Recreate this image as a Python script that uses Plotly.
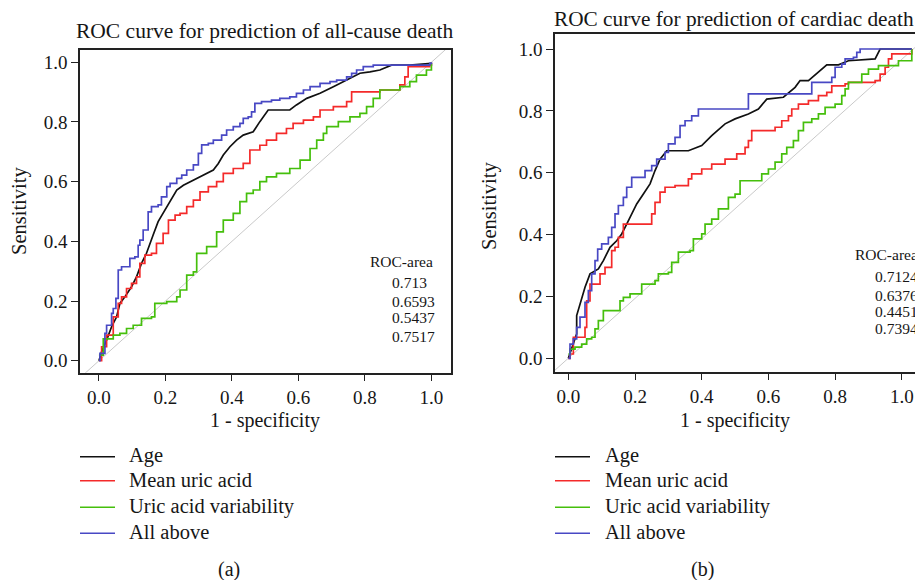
import plotly.graph_objects as go

# ---------------- data ----------------
tick_vals = [0.0, 0.2, 0.4, 0.6, 0.8, 1.0]
tick_text = ["0.0", "0.2", "0.4", "0.6", "0.8", "1.0"]

series_names = ["Age", "Mean uric acid", "Uric acid variability", "All above"]
series_colors = ["#111111", "#f42a2a", "#45bf0c", "#4848c4"]
series_shapes = ["linear", "hv", "hv", "hv"]

# Panel (a): all-cause death
a_age_x = [0, 0.008, 0.023, 0.038, 0.053, 0.063, 0.078, 0.098, 0.113, 0.128, 0.143, 0.153, 0.163, 0.178,
           0.198, 0.214, 0.234, 0.254, 0.284, 0.314, 0.344, 0.359, 0.374, 0.394, 0.414, 0.434, 0.464,
           0.484, 0.509, 0.574, 0.594, 0.625, 0.665, 0.705, 0.745, 0.785, 0.815, 0.845, 0.880, 0.935, 1.0]
a_age_y = [0, 0.030, 0.069, 0.114, 0.147, 0.192, 0.214, 0.248, 0.281, 0.326, 0.360, 0.393, 0.421, 0.466,
           0.505, 0.538, 0.572, 0.588, 0.605, 0.622, 0.639, 0.661, 0.689, 0.717, 0.739, 0.756, 0.767,
           0.801, 0.840, 0.840, 0.857, 0.879, 0.896, 0.918, 0.940, 0.963, 0.968, 0.974, 0.990, 0.990, 0.996]

a_mean_x = [0, 0.008, 0.023, 0.038, 0.043, 0.058, 0.068, 0.083, 0.098, 0.113, 0.123, 0.138, 0.158, 0.173,
            0.193, 0.209, 0.229, 0.244, 0.264, 0.284, 0.304, 0.329, 0.354, 0.374, 0.404, 0.434, 0.454,
            0.484, 0.504, 0.534, 0.564, 0.584, 0.615, 0.645, 0.665, 0.705, 0.745, 0.760, 0.805, 0.845,
            0.885, 0.905, 0.920, 0.930, 0.995, 1.0]
a_mean_y = [0, 0.047, 0.086, 0.086, 0.147, 0.192, 0.214, 0.242, 0.259, 0.281, 0.326, 0.354, 0.360, 0.393,
            0.427, 0.471, 0.488, 0.494, 0.516, 0.538, 0.566, 0.583, 0.600, 0.628, 0.644, 0.661, 0.706,
            0.722, 0.739, 0.762, 0.778, 0.795, 0.806, 0.817, 0.840, 0.851, 0.868, 0.901, 0.901, 0.907,
            0.907, 0.924, 0.951, 0.985, 0.990, 0.998]

a_var_x = [0, 0.013, 0.043, 0.063, 0.083, 0.103, 0.128, 0.158, 0.168, 0.204, 0.234, 0.244, 0.264, 0.284,
           0.294, 0.324, 0.354, 0.374, 0.404, 0.424, 0.444, 0.464, 0.484, 0.504, 0.534, 0.574, 0.605,
           0.635, 0.655, 0.675, 0.685, 0.720, 0.755, 0.785, 0.805, 0.825, 0.845, 0.885, 0.905, 0.935,
           0.955, 0.985, 0.995, 1.0]
a_var_y = [0.019, 0.073, 0.086, 0.092, 0.108, 0.119, 0.142, 0.147, 0.192, 0.198, 0.214, 0.237, 0.287, 0.298,
           0.360, 0.382, 0.432, 0.471, 0.494, 0.533, 0.561, 0.572, 0.600, 0.616, 0.628, 0.644, 0.672,
           0.711, 0.739, 0.762, 0.784, 0.801, 0.817, 0.829, 0.851, 0.879, 0.907, 0.907, 0.918, 0.935,
           0.957, 0.974, 0.974, 0.996]

a_all_x = [0, 0.003, 0.018, 0.023, 0.038, 0.043, 0.051, 0.058, 0.068, 0.093, 0.108, 0.118, 0.123, 0.133,
           0.148, 0.158, 0.178, 0.188, 0.204, 0.214, 0.234, 0.249, 0.264, 0.284, 0.299, 0.309, 0.329,
           0.344, 0.369, 0.384, 0.404, 0.424, 0.434, 0.449, 0.459, 0.469, 0.489, 0.519, 0.544, 0.574,
           0.594, 0.615, 0.635, 0.665, 0.695, 0.715, 0.745, 0.760, 0.775, 0.795, 0.825, 0.946, 0.995, 1.0]
a_all_y = [0, 0.025, 0.092, 0.119, 0.159, 0.175, 0.209, 0.304, 0.315, 0.343, 0.348, 0.387, 0.404, 0.438,
           0.499, 0.516, 0.522, 0.549, 0.583, 0.594, 0.611, 0.622, 0.639, 0.656, 0.695, 0.723, 0.728,
           0.739, 0.756, 0.773, 0.784, 0.795, 0.812, 0.817, 0.834, 0.862, 0.868, 0.873, 0.879, 0.884,
           0.896, 0.907, 0.918, 0.929, 0.935, 0.940, 0.951, 0.963, 0.974, 0.985, 0.990, 0.990, 0.996, 1.0]

a_auc = ["0.713", "0.6593", "0.5437", "0.7517"]

# Panel (b): cardiac death
b_age_x = [0, 0.025, 0.025, 0.035, 0.050, 0.065, 0.090, 0.105, 0.125, 0.145, 0.160, 0.175, 0.190, 0.205,
           0.225, 0.245, 0.260, 0.275, 0.295, 0.360, 0.400, 0.430, 0.470, 0.500, 0.540, 0.570, 0.595,
           0.645, 0.680, 0.695, 0.720, 0.750, 0.775, 0.810, 0.840, 0.920, 0.935, 1.030]
b_age_y = [0, 0.079, 0.138, 0.176, 0.230, 0.273, 0.289, 0.316, 0.359, 0.380, 0.402, 0.434, 0.467, 0.499,
           0.531, 0.564, 0.607, 0.644, 0.671, 0.671, 0.688, 0.720, 0.758, 0.774, 0.790, 0.806, 0.838,
           0.844, 0.876, 0.898, 0.898, 0.925, 0.949, 0.949, 0.962, 0.968, 1.0, 1.0]

b_mean_x = [0, 0.005, 0.015, 0.030, 0.050, 0.055, 0.065, 0.090, 0.095, 0.110, 0.130, 0.140, 0.150, 0.165,
            0.240, 0.250, 0.260, 0.275, 0.290, 0.320, 0.360, 0.370, 0.400, 0.430, 0.470, 0.505, 0.530,
            0.540, 0.550, 0.590, 0.620, 0.640, 0.660, 0.670, 0.690, 0.720, 0.750, 0.775, 0.790, 0.830,
            0.840, 0.920, 0.935, 0.950, 0.960, 0.970, 1.020, 1.030]
b_mean_y = [0, 0.014, 0.068, 0.068, 0.100, 0.186, 0.240, 0.240, 0.273, 0.294, 0.348, 0.359, 0.391, 0.434,
            0.434, 0.467, 0.504, 0.537, 0.553, 0.558, 0.580, 0.596, 0.612, 0.628, 0.644, 0.661, 0.682,
            0.704, 0.736, 0.736, 0.747, 0.768, 0.784, 0.806, 0.822, 0.833, 0.849, 0.860, 0.881, 0.887,
            0.892, 0.898, 0.919, 0.941, 0.968, 0.984, 0.984, 1.0]

b_var_x = [0, 0.005, 0.020, 0.040, 0.055, 0.070, 0.080, 0.090, 0.105, 0.150, 0.155, 0.165, 0.185, 0.220,
           0.220, 0.260, 0.270, 0.300, 0.310, 0.330, 0.365, 0.375, 0.400, 0.410, 0.430, 0.450, 0.480,
           0.500, 0.515, 0.560, 0.580, 0.600, 0.620, 0.640, 0.655, 0.675, 0.690, 0.705, 0.730, 0.750,
           0.770, 0.800, 0.820, 0.830, 0.840, 0.860, 0.880, 0.900, 0.930, 0.990, 1.030, 1.030]
b_var_y = [0.014, 0.030, 0.036, 0.046, 0.063, 0.068, 0.095, 0.122, 0.154, 0.154, 0.186, 0.197, 0.208, 0.213,
           0.240, 0.251, 0.273, 0.278, 0.310, 0.343, 0.348, 0.386, 0.402, 0.434, 0.450, 0.483, 0.520,
           0.531, 0.574, 0.574, 0.596, 0.612, 0.634, 0.661, 0.682, 0.704, 0.736, 0.763, 0.774, 0.790,
           0.811, 0.822, 0.849, 0.871, 0.892, 0.892, 0.919, 0.935, 0.946, 0.962, 0.989, 1.0]

b_all_x = [0, 0.005, 0.015, 0.025, 0.035, 0.050, 0.060, 0.070, 0.080, 0.088, 0.100, 0.120, 0.130, 0.140,
           0.150, 0.165, 0.175, 0.190, 0.220, 0.230, 0.250, 0.265, 0.290, 0.300, 0.320, 0.335, 0.350,
           0.370, 0.390, 0.530, 0.540, 0.700, 0.730, 0.790, 0.800, 0.820, 0.830, 0.855, 0.865, 0.875, 1.030]
b_all_y = [0, 0.046, 0.063, 0.100, 0.133, 0.181, 0.219, 0.273, 0.316, 0.353, 0.370, 0.391, 0.423, 0.467,
           0.494, 0.520, 0.553, 0.585, 0.585, 0.607, 0.623, 0.644, 0.666, 0.693, 0.714, 0.752, 0.768,
           0.784, 0.806, 0.806, 0.855, 0.855, 0.892, 0.908, 0.941, 0.951, 0.968, 0.973, 0.989, 1.0, 1.0]

b_auc = ["0.7124", "0.6376", "0.4451", "0.7394"]

# chance (reference) lines, as drawn in each panel
a_diag_x = [-0.1, 1.1]
a_diag_y = [-0.1, 1.1]
b_diag_x = [-0.08, 1.08]
b_diag_y = [-0.077, 1.044]

panel_titles = ["ROC curve for prediction of all-cause death", "ROC curve for prediction of cardiac death"]
x_title = "1 - specificity"
y_title = "Sensitivity"
panel_labels = ["(a)", "(b)"]

# ---------------- figure ----------------
W, H = 915, 580
FONT = "Liberation Serif"
TXT = "#161616"

fig = go.Figure()

def px_x(p):
    return p / W

def px_y(p):
    return 1 - p / H

panels = [
    dict(xa="x", ya="y", diag=(a_diag_x, a_diag_y),
         curves=[(a_age_x, a_age_y), (a_mean_x, a_mean_y), (a_var_x, a_var_y), (a_all_x, a_all_y)]),
    dict(xa="x2", ya="y2", diag=(b_diag_x, b_diag_y),
         curves=[(b_age_x, b_age_y), (b_mean_x, b_mean_y), (b_var_x, b_var_y), (b_all_x, b_all_y)]),
]

for p in panels:
    fig.add_trace(go.Scatter(x=p["diag"][0], y=p["diag"][1], mode="lines", xaxis=p["xa"], yaxis=p["ya"],
                             line=dict(color="#c9c9c9", width=1), showlegend=False, hoverinfo="skip"))
    for (cx, cy), name, col, shp in zip(p["curves"], series_names, series_colors, series_shapes):
        fig.add_trace(go.Scatter(x=cx, y=cy, mode="lines", name=name, xaxis=p["xa"], yaxis=p["ya"],
                                 line=dict(color=col, width=1.7, shape=shp), showlegend=False))

axis_common = dict(tickmode="array", tickvals=tick_vals, ticktext=tick_text, ticks="outside",
                   ticklen=7, tickwidth=1.3, tickcolor="#222", showgrid=False, zeroline=False,
                   showline=True, linecolor="#222", linewidth=1.5,
                   tickfont=dict(family=FONT, size=19, color=TXT))

fig.update_layout(
    width=W, height=H, margin=dict(l=0, r=0, t=0, b=0),
    paper_bgcolor="white", plot_bgcolor="white", showlegend=False,
    xaxis=dict(domain=[px_x(80), px_x(450.7)], range=[-0.057, 1.058], mirror=True, anchor="y", **axis_common),
    yaxis=dict(domain=[px_y(372.7), px_y(50)], range=[-0.040, 1.041], mirror=True, anchor="x", **axis_common),
    xaxis2=dict(domain=[px_x(555), 1.0], range=[-0.040, 1.0396], mirror=True, anchor="y2", **axis_common),
    yaxis2=dict(domain=[px_y(371.7), px_y(34)], range=[-0.0433, 1.0485], mirror=False, anchor="x2", **axis_common),
)

ann = []
def text(s, x, y, size, xanchor="center", yanchor="middle", angle=0):
    ann.append(dict(text=s, x=px_x(x), y=px_y(y), xref="paper", yref="paper", showarrow=False,
                    xanchor=xanchor, yanchor=yanchor, textangle=angle,
                    font=dict(family=FONT, size=size, color=TXT)))

# panel titles and axis titles
text(panel_titles[0], 265, 31, 21.5)
text(panel_titles[1], 734, 19, 21.3)
text(x_title, 265, 420, 20)
text(x_title, 735, 420, 20)
text(y_title, 19, 211, 20.5, angle=-90)
text(y_title, 490, 206, 20.5, angle=-90)
text(panel_labels[0], 229, 569, 20)
text(panel_labels[1], 702, 569, 20)

# ROC-area blocks
text("ROC-area", 401.7, 261.7, 15.5)
for s, yy in zip(a_auc, [282.7, 301.7, 317.7, 336.0]):
    text(s, 390, yy, 15.5, xanchor="left")
text("ROC-area", 853.3, 254.3, 15.5, xanchor="left")
for s, yy in zip(b_auc, [276.7, 295.7, 311.7, 328.3]):
    text(s, 873.3, yy, 15.5, xanchor="left")

# legends (one per panel, below each plot)
rows = [456.7, 480.7, 507.3, 533.3]
shapes = []
for (lx0, lx1, tx) in [(80, 115, 127), (555, 590, 603)]:
    for name, col, yy in zip(series_names, series_colors, rows):
        shapes.append(dict(type="line", xref="paper", yref="paper", x0=px_x(lx0), x1=px_x(lx1),
                           y0=px_y(yy), y1=px_y(yy), line=dict(color=col, width=1.6)))
        text(name, tx, yy - 1, 20.5, xanchor="left")

fig.update_layout(annotations=ann, shapes=shapes)
fig.write_html("out.html", config={"displayModeBar": False},
               post_script="document.body.style.margin='0';document.body.style.overflow='hidden';")
